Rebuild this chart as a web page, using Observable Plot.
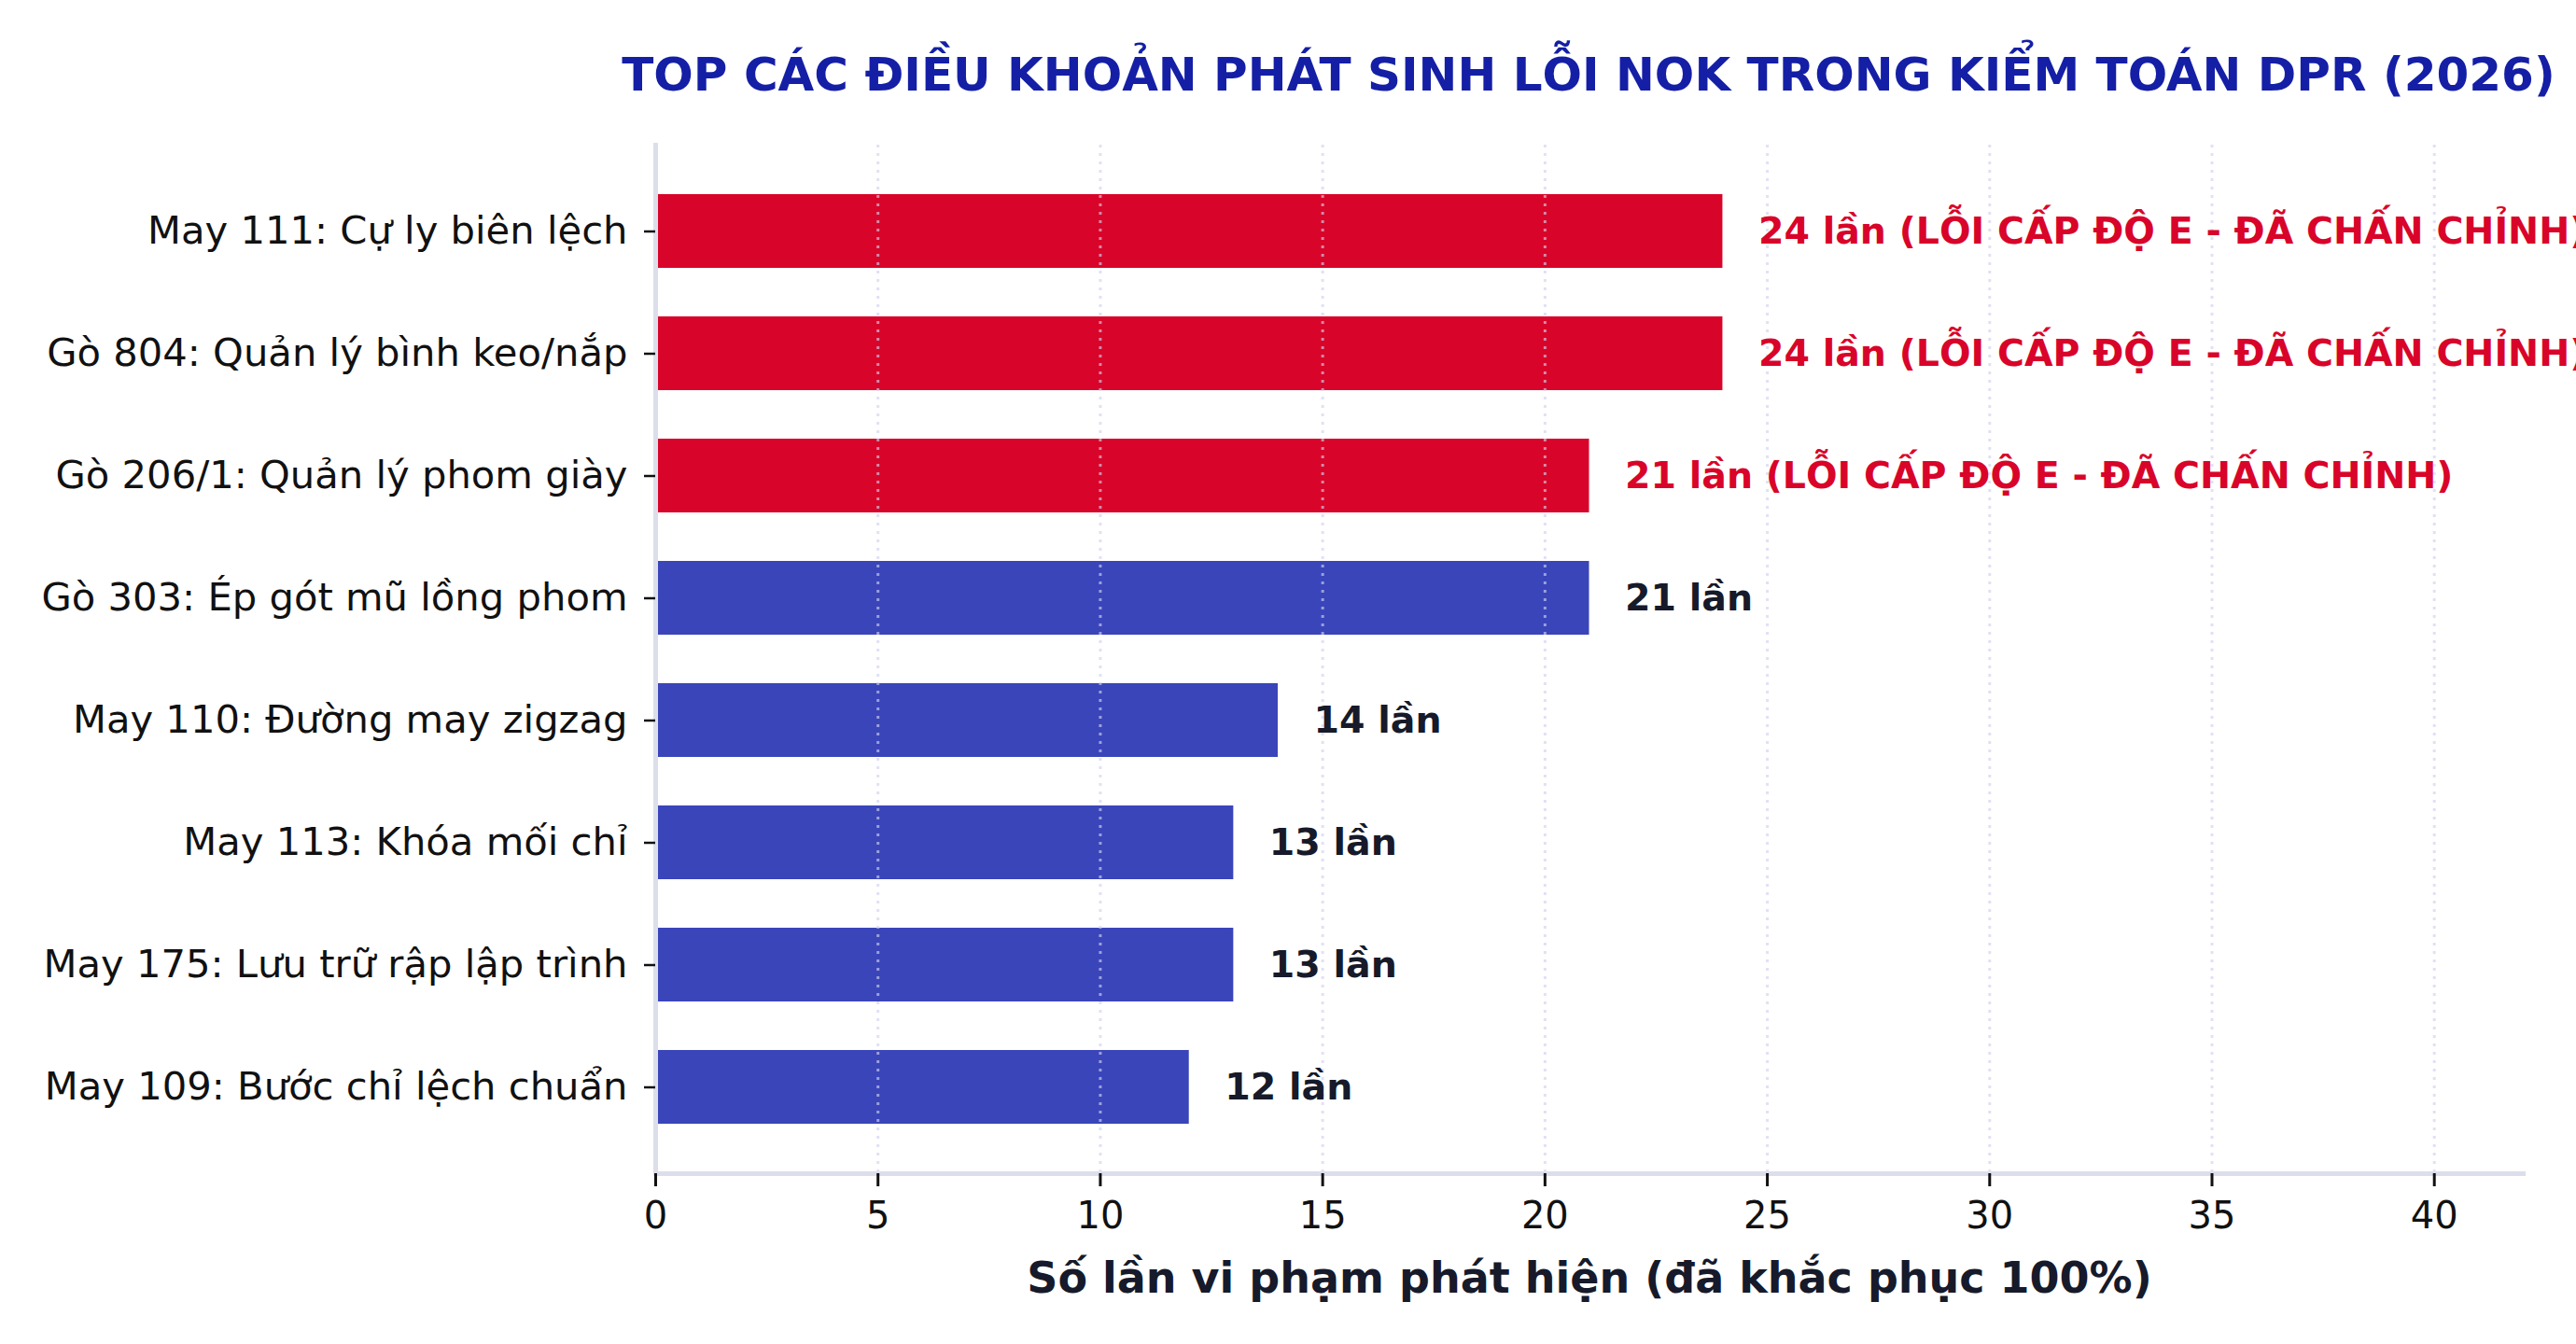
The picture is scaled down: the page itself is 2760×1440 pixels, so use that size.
<!DOCTYPE html>
<html>
<head>
<meta charset="utf-8">
<script src="https://cdn.jsdelivr.net/npm/d3@7"></script>
<script src="https://cdn.jsdelivr.net/npm/@observablehq/plot@0.6"></script>
<style>
  html, body { margin: 0; padding: 0; background: #fff; overflow: hidden; }
  #wrap { width: 2760px; height: 1440px; position: relative; }
  #titlebox { height: 130px; position: relative; }
  #title {
    position: absolute; left: 1702px; top: 55px; transform: translateX(-50%);
    white-space: nowrap;
    font-family: "DejaVu Sans"; font-weight: bold; font-size: 50px; line-height: 50px;
    color: #141fa6;
  }
</style>
</head>
<body>
<div id="wrap">
  <div id="titlebox"><div id="title">TOP CÁC ĐIỀU KHOẢN PHÁT SINH LỖI NOK TRONG KIỂM TOÁN DPR (2026)</div></div>
  <div id="chart"></div>
</div>
<script>
const categories = [
  "May 111: Cự ly biên lệch",
  "Gò 804: Quản lý bình keo/nắp",
  "Gò 206/1: Quản lý phom giày",
  "Gò 303: Ép gót mũ lồng phom",
  "May 110: Đường may zigzag",
  "May 113: Khóa mối chỉ",
  "May 175: Lưu trữ rập lập trình",
  "May 109: Bước chỉ lệch chuẩn"
];
const counts = [24, 24, 21, 21, 14, 13, 13, 12];
const levelE = [true, true, true, false, false, false, false, false];
const xTicks = [0, 5, 10, 15, 20, 25, 30, 35, 40];
const xLabel = "Số lần vi phạm phát hiện (đã khắc phục 100%)";
const suffixE = " (LỖI CẤP ĐỘ E - ĐÃ CHẤN CHỈNH)";

const RED = "#d90429", BLUE = "#3a45ba", SPINE = "#dcdfeb";

const data = categories.map((c, i) => ({
  cat: c, count: counts[i], e: levelE[i],
  label: `${counts[i]} lần` + (levelE[i] ? suffixE : "")
}));

const chart = Plot.plot({
  width: 2760,
  height: 1310,
  marginTop: 25,
  marginBottom: 183,
  marginLeft: 702,
  marginRight: 57,
  style: { fontFamily: "DejaVu Sans", fontSize: "40px", color: "#111", background: "white" },
  x: { domain: [0, 42] },
  y: { domain: categories, padding: 0.4 },
  marks: [
    Plot.barX(data, { x: "count", y: "cat", fill: d => d.e ? RED : BLUE }),
    Plot.gridX(xTicks, { stroke: "#cfd1ee", strokeOpacity: 0.65, strokeWidth: 3, strokeDasharray: "3,6" }),
    Plot.frame({ anchor: "left", stroke: SPINE, strokeWidth: 5 }),
    Plot.frame({ anchor: "bottom", stroke: SPINE, strokeWidth: 5 }),
    Plot.axisX({ ticks: xTicks, tickSize: 14, tickPadding: 16, strokeWidth: 3, fontSize: 40, label: null, tickFormat: d => String(d) }),
    Plot.axisY({ tickSize: 12, tickPadding: 18, strokeWidth: 2.5, fontSize: 41.7, label: null }),
    Plot.text(data, {
      x: "count", y: "cat", text: "label", textAnchor: "start", dx: 38,
      fill: d => d.e ? RED : "#161a2a", fontWeight: "bold", fontSize: 39.5
    }),
    Plot.text([xLabel], {
      frameAnchor: "bottom", dy: 113, lineAnchor: "middle",
      text: d => d, fontWeight: "bold", fontSize: 46, fill: "#161a2a"
    })
  ]
});
document.getElementById("chart").appendChild(chart);
</script>
</body>
</html>
